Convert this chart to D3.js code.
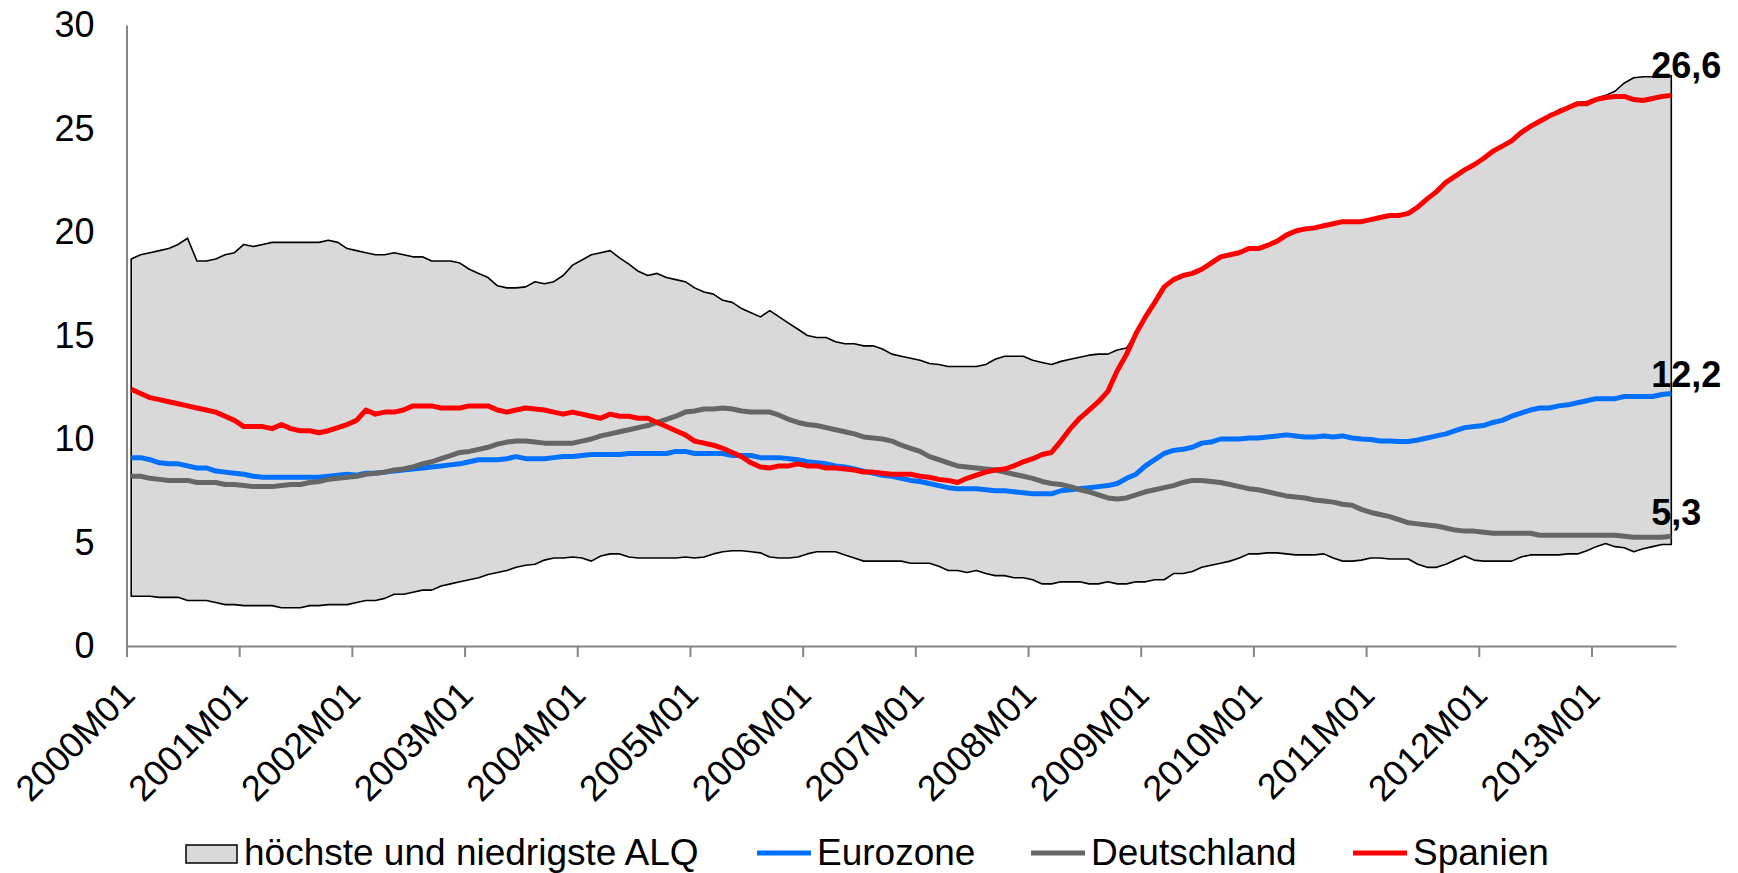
<!DOCTYPE html>
<html>
<head>
<meta charset="utf-8">
<script src="https://cdn.jsdelivr.net/npm/d3@7/dist/d3.min.js"></script>
<style>
  body { margin: 0; background: #fff; }
  text { font-family: "Liberation Sans", Arial, sans-serif; }
</style>
</head>
<body>
<svg id="chart" width="1738" height="873"></svg>
<script>
// Arbeitslosenquoten (ALQ) in %, monthly 2000M01 .. 2013M09

var years = [2000, 2001, 2002, 2003, 2004, 2005, 2006, 2007, 2008, 2009, 2010, 2011, 2012, 2013];
var lastMonthOfLastYear = 9;
var yTicks = [0, 5, 10, 15, 20, 25, 30];

var hoechste = [
  18.7, 18.9, 19.0, 19.1, 19.2, 19.4, 19.7, 18.6, 18.6, 18.7, 18.9, 19.0,
  19.4, 19.3, 19.4, 19.5, 19.5, 19.5, 19.5, 19.5, 19.5, 19.6, 19.5, 19.2,
  19.1, 19.0, 18.9, 18.9, 19.0, 18.9, 18.8, 18.8, 18.6, 18.6, 18.6, 18.5,
  18.2, 18.0, 17.8, 17.4, 17.3, 17.3, 17.35, 17.6, 17.5, 17.6, 17.9, 18.4,
  18.65, 18.9, 19.0, 19.1, 18.75, 18.45, 18.1, 17.9, 18.0, 17.8, 17.7, 17.6,
  17.3, 17.1, 17.0, 16.7, 16.6, 16.3, 16.1, 15.9, 16.2, 15.9, 15.6, 15.3,
  15.0, 14.9, 14.9, 14.7, 14.6, 14.6, 14.5, 14.5, 14.35, 14.1, 14.0, 13.9,
  13.8, 13.65, 13.6, 13.5, 13.5, 13.5, 13.5, 13.6, 13.85, 14.0, 14.0, 14.0,
  13.8, 13.7, 13.6, 13.75, 13.85, 13.95, 14.05, 14.1, 14.1, 14.3, 14.4, 15.1,
  15.9, 16.6, 17.35, 17.7, 17.9, 18.0, 18.2, 18.5, 18.8, 18.9, 19.0, 19.2,
  19.2, 19.35, 19.55, 19.85, 20.05, 20.15, 20.2, 20.3, 20.4, 20.5, 20.5, 20.5,
  20.6, 20.7, 20.8, 20.8, 20.9, 21.2, 21.6, 21.95, 22.4, 22.7, 23.0, 23.25,
  23.55, 23.9, 24.15, 24.4, 24.8, 25.1, 25.35, 25.6, 25.9, 26.05, 26.25, 26.3,
  26.45, 26.6, 26.8, 27.2, 27.45, 27.5, 27.5, 27.55, 27.55
];

var niedrigste = [
  2.4, 2.4, 2.4, 2.35, 2.35, 2.35, 2.2, 2.2, 2.2, 2.1, 2.0, 2.0,
  1.95, 1.95, 1.95, 1.95, 1.85, 1.85, 1.85, 1.95, 1.95, 2.0, 2.0, 2.0,
  2.1, 2.2, 2.2, 2.3, 2.5, 2.5, 2.6, 2.7, 2.7, 2.9, 3.0, 3.1,
  3.2, 3.3, 3.45, 3.55, 3.65, 3.8, 3.9, 3.95, 4.15, 4.25, 4.25, 4.3,
  4.25, 4.1, 4.35, 4.45, 4.45, 4.3, 4.25, 4.25, 4.25, 4.25, 4.25, 4.3,
  4.25, 4.3, 4.45, 4.55, 4.6, 4.6, 4.55, 4.5, 4.3, 4.25, 4.25, 4.3,
  4.45, 4.55, 4.55, 4.55, 4.4, 4.25, 4.1, 4.1, 4.1, 4.1, 4.1, 4.0,
  4.0, 4.0, 3.85, 3.65, 3.65, 3.55, 3.65, 3.5, 3.4, 3.4, 3.3, 3.3,
  3.2, 3.0, 3.0, 3.1, 3.1, 3.1, 3.0, 3.0, 3.1, 3.0, 3.0, 3.1,
  3.1, 3.2, 3.2, 3.5, 3.5, 3.6, 3.8, 3.9, 4.0, 4.1, 4.25, 4.45,
  4.45, 4.5, 4.5, 4.45, 4.4, 4.4, 4.4, 4.45, 4.25, 4.1, 4.1, 4.15,
  4.25, 4.25, 4.2, 4.2, 4.2, 3.95, 3.8, 3.8, 3.95, 4.15, 4.35, 4.15,
  4.1, 4.1, 4.1, 4.1, 4.3, 4.4, 4.4, 4.4, 4.4, 4.45, 4.45, 4.6,
  4.8, 4.95, 4.8, 4.75, 4.55, 4.7, 4.8, 4.9, 4.9
];

var eurozone = [
  9.1, 9.1, 9.0, 8.85, 8.8, 8.8, 8.7, 8.6, 8.6, 8.45, 8.4, 8.35,
  8.3, 8.2, 8.15, 8.15, 8.15, 8.15, 8.15, 8.15, 8.15, 8.2, 8.25, 8.3,
  8.25, 8.35, 8.35, 8.4, 8.45, 8.5, 8.55, 8.6, 8.65, 8.7, 8.75, 8.8,
  8.9, 9.0, 9.0, 9.0, 9.05, 9.15, 9.05, 9.05, 9.05, 9.1, 9.15, 9.15,
  9.2, 9.25, 9.25, 9.25, 9.25, 9.3, 9.3, 9.3, 9.3, 9.3, 9.4, 9.4,
  9.3, 9.3, 9.3, 9.3, 9.2, 9.2, 9.2, 9.1, 9.1, 9.1, 9.05, 9.0,
  8.9, 8.85, 8.8, 8.7, 8.65, 8.55, 8.45, 8.35, 8.25, 8.2, 8.1, 8.0,
  7.95, 7.85, 7.75, 7.65, 7.6, 7.6, 7.6, 7.55, 7.5, 7.5, 7.45, 7.4,
  7.35, 7.35, 7.35, 7.5, 7.55, 7.6, 7.65, 7.7, 7.75, 7.85, 8.1, 8.3,
  8.7, 9.0, 9.3, 9.45, 9.5, 9.6, 9.8, 9.85, 10.0, 10.0, 10.0, 10.05,
  10.05, 10.1, 10.15, 10.2, 10.15, 10.1, 10.1, 10.15, 10.1, 10.15, 10.05, 10.0,
  9.98, 9.9, 9.9, 9.88, 9.88, 9.95, 10.05, 10.15, 10.25, 10.4, 10.55, 10.6,
  10.65, 10.8, 10.9, 11.1, 11.25, 11.4, 11.5, 11.5, 11.6, 11.65, 11.75, 11.85,
  11.95, 11.95, 11.95, 12.05, 12.05, 12.05, 12.05, 12.15, 12.2
];

var deutschland = [
  8.2, 8.2, 8.1, 8.05, 8.0, 8.0, 8.0, 7.9, 7.9, 7.9, 7.8, 7.8,
  7.75, 7.7, 7.7, 7.7, 7.75, 7.8, 7.8, 7.9, 7.95, 8.05, 8.1, 8.15,
  8.2, 8.3, 8.35, 8.4, 8.5, 8.55, 8.65, 8.8, 8.9, 9.05, 9.2, 9.35,
  9.4, 9.5, 9.6, 9.75, 9.85, 9.9, 9.9, 9.85, 9.8, 9.8, 9.8, 9.8,
  9.9, 10.0, 10.15, 10.25, 10.35, 10.45, 10.55, 10.65, 10.8, 10.95, 11.1, 11.3,
  11.35, 11.45, 11.45, 11.5, 11.45, 11.35, 11.3, 11.3, 11.3, 11.15, 10.95, 10.8,
  10.7, 10.65, 10.55, 10.45, 10.35, 10.25, 10.1, 10.05, 10.0, 9.9, 9.7, 9.55,
  9.4, 9.15, 9.0, 8.85, 8.7, 8.65, 8.6, 8.55, 8.5, 8.4, 8.3, 8.2,
  8.1, 7.95, 7.85, 7.8, 7.7, 7.55, 7.45, 7.3, 7.15, 7.1, 7.15, 7.3,
  7.45, 7.55, 7.65, 7.75, 7.9, 8.0, 8.0, 7.95, 7.9, 7.8, 7.7, 7.6,
  7.55, 7.45, 7.35, 7.25, 7.2, 7.15, 7.05, 7.0, 6.95, 6.85, 6.8, 6.6,
  6.45, 6.35, 6.25, 6.1, 5.95, 5.9, 5.85, 5.8, 5.7, 5.6, 5.55, 5.55,
  5.5, 5.45, 5.45, 5.45, 5.45, 5.45, 5.35, 5.35, 5.35, 5.35, 5.35, 5.35,
  5.35, 5.35, 5.35, 5.3, 5.25, 5.25, 5.25, 5.25, 5.3
];

var spanien = [
  12.4, 12.2, 12.0, 11.9, 11.8, 11.7, 11.6, 11.5, 11.4, 11.3, 11.1, 10.9,
  10.6, 10.6, 10.6, 10.5, 10.7, 10.5, 10.4, 10.4, 10.3, 10.4, 10.55, 10.7,
  10.9, 11.4, 11.2, 11.3, 11.3, 11.4, 11.6, 11.6, 11.6, 11.5, 11.5, 11.5,
  11.6, 11.6, 11.6, 11.4, 11.3, 11.4, 11.5, 11.45, 11.4, 11.3, 11.2, 11.3,
  11.2, 11.1, 11.0, 11.2, 11.1, 11.1, 11.0, 11.0, 10.8, 10.6, 10.4, 10.2,
  9.9, 9.8, 9.7, 9.55, 9.35, 9.15, 8.85, 8.65, 8.6, 8.7, 8.7, 8.8,
  8.7, 8.7, 8.6, 8.6, 8.55, 8.5, 8.4, 8.4, 8.35, 8.3, 8.3, 8.3,
  8.2, 8.15, 8.05, 8.0, 7.9, 8.1, 8.25, 8.4, 8.5, 8.55, 8.7, 8.9,
  9.05, 9.25, 9.35, 9.9, 10.5, 11.0, 11.4, 11.8, 12.3, 13.3, 14.1, 15.1,
  15.9, 16.6, 17.35, 17.7, 17.9, 18.0, 18.2, 18.5, 18.8, 18.9, 19.0, 19.2,
  19.2, 19.35, 19.55, 19.85, 20.05, 20.15, 20.2, 20.3, 20.4, 20.5, 20.5, 20.5,
  20.6, 20.7, 20.8, 20.8, 20.9, 21.2, 21.6, 21.95, 22.4, 22.7, 23.0, 23.25,
  23.55, 23.9, 24.15, 24.4, 24.8, 25.1, 25.35, 25.6, 25.8, 26.0, 26.2, 26.2,
  26.4, 26.5, 26.55, 26.55, 26.4, 26.35, 26.45, 26.55, 26.6
];

// month labels like 2000M01
var months = [];
years.forEach(function(y, yi) {
  var n = yi === years.length - 1 ? lastMonthOfLastYear : 12;
  for (var m = 1; m <= n; m++) months.push(y + "M" + (m < 10 ? "0" + m : m));
});

var svg = d3.select("#chart");

var LEFT = 126.5, RIGHT = 1676, TOP = 25, BOTTOM = 646;
var AXIS_COLOR = "#868686";

var x = d3.scaleLinear().domain([0, months.length]).range([LEFT, RIGHT]);
var y = d3.scaleLinear().domain([0, 30]).range([BOTTOM, TOP]);
var cx = function(d, i) { return x(i + 0.5); };

// band between highest and lowest rate
var band = d3.area()
  .x(function(d) { return x(d.i + 0.5); })
  .y0(function(d) { return y(d.lo); })
  .y1(function(d) { return y(d.hi); });

var bandData = months.map(function(m, i) { return {i: i, hi: hoechste[i], lo: niedrigste[i]}; });

svg.append("path")
  .datum(bandData)
  .attr("d", band)
  .attr("fill", "#d9d9d9")
  .attr("stroke", "#000")
  .attr("stroke-width", 1.6)
  .attr("stroke-linejoin", "round");

// axes
var xAxis = d3.axisBottom(x)
  .tickValues(d3.range(0, months.length, 12))
  .tickFormat(function(i) { return months[i]; })
  .tickSize(11)
  .tickSizeOuter(0);

var gx = svg.append("g").attr("transform", "translate(0," + BOTTOM + ")").call(xAxis);
gx.selectAll("text")
  .attr("x", 0).attr("y", 0).attr("dy", 0)
  .attr("text-anchor", "end")
  .attr("transform", "translate(10,51) rotate(-45)");

var yAxis = d3.axisLeft(y).tickValues(yTicks).tickSize(0).tickPadding(32);
var gy = svg.append("g").attr("transform", "translate(" + LEFT + ",0)").call(yAxis);

[gx, gy].forEach(function(g) {
  g.selectAll("path, line").attr("stroke", AXIS_COLOR).attr("stroke-width", 2);
  g.selectAll("text").attr("fill", "#000").style("font-size", "36px")
    .style("font-family", '"Liberation Sans", Arial, sans-serif');
});

// the three lines
var series = [
  {name: "Eurozone", values: eurozone, color: "#0070ff", labelDy: -6.5},
  {name: "Deutschland", values: deutschland, color: "#666666", labelDy: -11},
  {name: "Spanien", values: spanien, color: "#ff0000", labelDy: -17.5}
];

var line = d3.line().x(cx).y(function(d) { return y(d); });

svg.selectAll(".serie").data(series).enter().append("path")
  .attr("class", "serie")
  .attr("d", function(s) { return line(s.values); })
  .attr("fill", "none")
  .attr("stroke", function(s) { return s.color; })
  .attr("stroke-width", 5)
  .attr("stroke-linejoin", "round");

// last values
svg.selectAll(".endlabel").data(series).enter().append("text")
  .attr("class", "endlabel")
  .attr("x", x(months.length - 0.5) - 20)
  .attr("y", function(s) { return y(s.values[s.values.length - 1]) + s.labelDy; })
  .style("font-size", "36px")
  .style("font-weight", "bold")
  .text(function(s) { return d3.format(".1f")(s.values[s.values.length - 1]).replace(".", ","); });

// legend
var legend = svg.append("g").style("font-size", "37px");
legend.append("rect")
  .attr("x", 186).attr("y", 845).attr("width", 51).attr("height", 18)
  .attr("fill", "#d9d9d9").attr("stroke", "#000").attr("stroke-width", 1.5);
legend.append("text").attr("x", 244).attr("y", 865)
  .text("höchste und niedrigste ALQ");

var legendX = [757, 1031, 1353];
series.forEach(function(s, k) {
  legend.append("line")
    .attr("x1", legendX[k]).attr("x2", legendX[k] + 54)
    .attr("y1", 853).attr("y2", 853)
    .attr("stroke", s.color).attr("stroke-width", 5);
  legend.append("text").attr("x", legendX[k] + 60).attr("y", 865)
    .text(s.name);
});
</script>
</body>
</html>
